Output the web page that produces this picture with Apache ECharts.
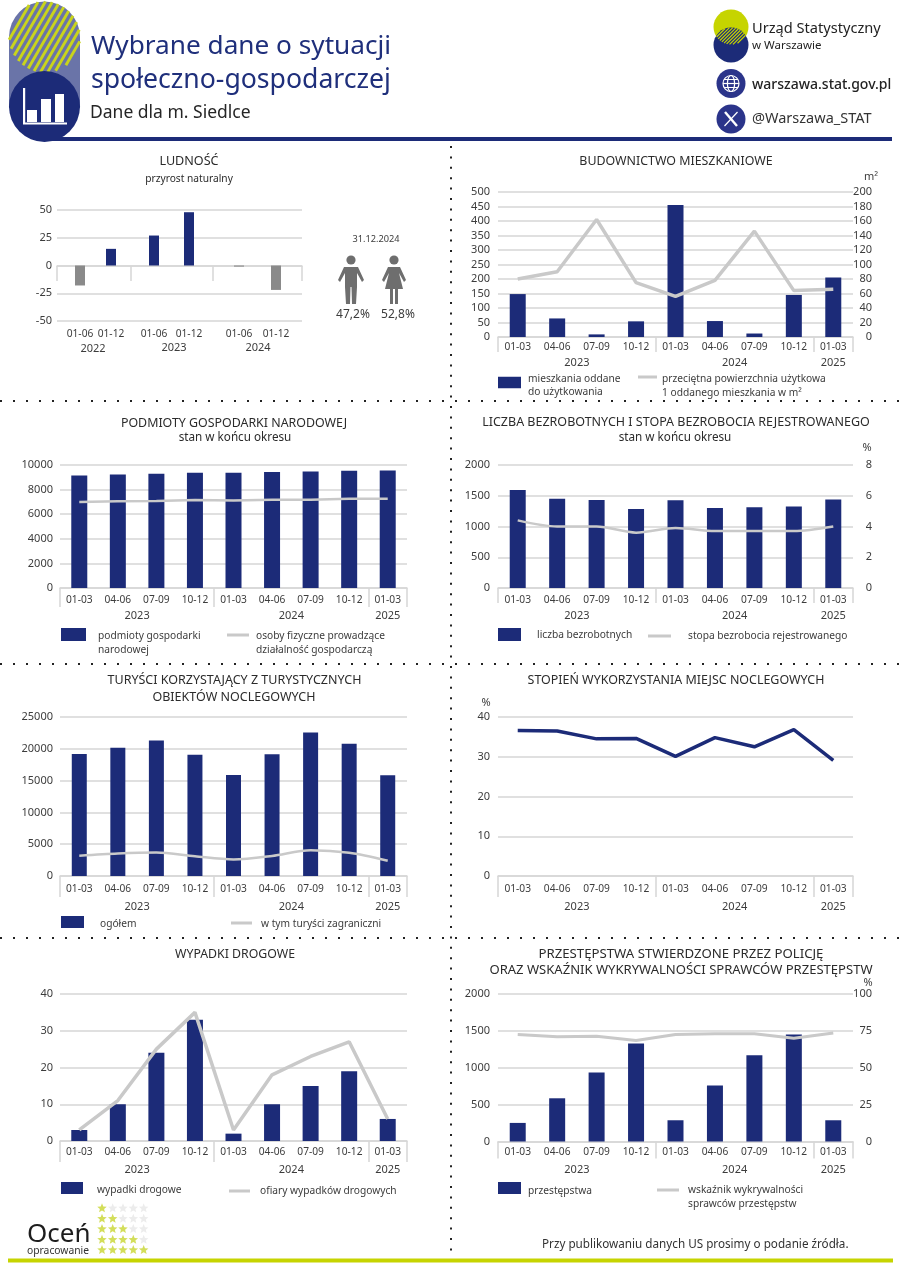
<!DOCTYPE html>
<html>
<head>
<meta charset="utf-8">
<style>
html,body{margin:0;padding:0;background:#fff}
#main{width:900px;height:1273px}
</style>
<script src="https://cdn.jsdelivr.net/npm/echarts@6/dist/echarts.min.js"></script>
</head>
<body>
<div id="main"></div>
<script>
// dane
const kwartaly = ['01-03','04-06','07-09','10-12','01-03','04-06','07-09','10-12','01-03'];
const lataKwartalne = [['2023',4],['2024',4],['2025',1]];

const polrocza = ['01-06','01-12'];
const lataPolroczne = ['2022','2023','2024'];
const przyrost2022 = [-18,15];
const przyrost2023 = [27,48];
const przyrost2024 = [-1,-22];
const dataPlec = '31.12.2024';
const udzialMezczyzn = '47,2%';
const udzialKobiet = '52,8%';

const mieszkaniaOddane = [148,64,9,54,455,55,12,145,205];
const powierzchniaMieszkania = [80,90,162,75,56,78,146,64,66];

const podmiotyGospodarki = [9150,9230,9290,9380,9380,9440,9480,9540,9560];
const osobyFizyczne = [7000,7050,7080,7150,7120,7180,7180,7250,7250];

const liczbaBezrobotnych = [1595,1450,1430,1285,1425,1300,1315,1325,1440];
const stopaBezrobocia = [4.4,4.0,4.0,3.6,3.9,3.7,3.7,3.7,4.0];

const turysciOgolem = [19200,20150,21300,19050,15900,19150,22550,20800,15850];
const turysciZagraniczni = [3200,3550,3700,3100,2600,3150,4050,3650,2400];

const stopienWykorzystania = [36.6,36.5,34.5,34.6,30.1,34.8,32.5,36.8,29.1];

const wypadkiDrogowe = [3,10,24,33,2,10,15,19,6];
const ofiaryWypadkow = [3,11,25,35,3,18,23,27,6];

const przestepstwa = [252,586,937,1329,288,761,1171,1450,288];
const wykrywalnosc = [72.5,71,71.3,68.5,72.5,73,73,70,73.6];

const NAVY = '#1c2b78';
const GRAY_LINE = '#c9c9c9';
const GRID_LINE = '#d6d6d6';
const TEXT = '#3c3c3c';
const LIME = '#c6d400';
const FONT = '"Noto Sans"';
const plain = (v)=>String(v);

let option = {
    animation: false,
    backgroundColor: '#fff',
    textStyle: {fontFamily: FONT},
    title: [], legend: [], grid: [], xAxis: [], yAxis: [], series: [],
    graphic: {elements: []}
};
const gfx = option.graphic.elements;

function txt(text, x, y, size, color, align, weight){
    gfx.push({type:'text', x:x, y:y, silent:true, style:{
        text:text, fill:color||TEXT, textAlign:align||'center', textVerticalAlign:'middle',
        font:(weight||'normal')+' '+size+'px '+FONT
    }});
}
function line(x1,y1,x2,y2,color,width,dash){
    gfx.push({type:'line', silent:true, shape:{x1,y1,x2,y2}, style:{stroke:color,lineWidth:width,lineDash:dash||null}});
}
function circle(cx,cy,r,fill){
    gfx.push({type:'circle', silent:true, shape:{cx,cy,r}, style:{fill:fill}});
}
function rect(x,y,width,height,fill){
    gfx.push({type:'rect', silent:true, shape:{x,y,width,height}, style:{fill:fill}});
}
function poly(points,fill){
    gfx.push({type:'polygon', silent:true, shape:{points}, style:{fill:fill}});
}
function heading(text, cx, cy, size){
    option.title.push({text:text, left:cx, top:cy-10, textAlign:'center', padding:0,
        textStyle:{fontFamily:FONT, fontSize:size||12.4, fontWeight:'normal', color:'#2b2b2b', lineHeight:20}});
}
// ukosne paski przyciete do czesci wspolnej kol
function chords(circles, step, angle, color, width){
    let dx=Math.cos(angle), dy=-Math.sin(angle);
    let nx=-dy, ny=dx;
    let c0=circles[0];
    for(let d=-c0.r; d<=c0.r; d+=step){
        let lo=-1e9, hi=1e9;
        let px=c0.x+nx*d, py=c0.y+ny*d;
        circles.forEach(c=>{
            let ax=px-c.x, ay=py-c.y;
            let b=ax*dx+ay*dy, q=ax*ax+ay*ay-c.r*c.r, disc=b*b-q;
            if(disc<0){ lo=1; hi=0; return; }
            lo=Math.max(lo,-b-Math.sqrt(disc));
            hi=Math.min(hi,-b+Math.sqrt(disc));
        });
        if(hi>lo) line(px+dx*lo,py+dy*lo,px+dx*hi,py+dy*hi,color,width);
    }
}

// dy: o ile tekst lezy nizej niz srodek znaczka
function legendItem(name, left, iconCy, w, h, gap, dy, lines){
    let boxH = Math.max(lines*13.5+2*dy, h);
    let base = {fontFamily:FONT, fontSize:10.2, color:TEXT, lineHeight:13.5};
    option.legend.push({
        data:[{name:name, icon:'rect'}], selectedMode:false, padding:0,
        left:left, top:iconCy-boxH/2, itemWidth:w, itemHeight:h,
        formatter:(n)=>{
            let body = n.split('\n').map(l=>'{t|'+l+'}').join('\n');
            return dy>0 ? '{sp| }\n'+body : body;
        },
        textStyle:Object.assign({}, base, {padding:[0,0,0,gap-5],
            rich:{t:base, sp:{fontSize:1, lineHeight:2*dy}}})
    });
}

// wykres kwartalny: slupki lub linia, opcjonalnie druga os
function addChart(c){
    let g = option.grid.length;
    option.grid.push({left:c.left, top:c.top, width:c.right-c.left, height:c.bottom-c.top});
    let xi = option.xAxis.length;
    option.xAxis.push({
        type:'category', gridIndex:g, data:kwartaly,
        axisLine:{lineStyle:{color:GRID_LINE,width:1.5}},
        axisTick:{show:true, length:c.tick, alignWithLabel:false, lineStyle:{color:GRID_LINE,width:1.5},
            interval:(i)=>i===0||i===4||i===8},
        axisLabel:{interval:0, fontFamily:FONT, fontSize:10.2, color:TEXT, margin:c.labelMargin}
    });
    let yi = option.yAxis.length;
    option.yAxis.push({
        type:'value', gridIndex:g, min:0, max:c.max, interval:c.step,
        axisLine:{show:false}, axisTick:{show:false},
        splitLine:{lineStyle:{color:GRID_LINE,width:1.5}},
        axisLabel:{formatter:plain, fontFamily:FONT, fontSize:11, color:TEXT, margin:c.leftMargin||7}
    });
    let yr = yi;
    if(c.max2){
        yr = option.yAxis.length;
        option.yAxis.push({
            type:'value', gridIndex:g, position:'right', min:0, max:c.max2, interval:c.step2,
            axisLine:{show:false}, axisTick:{show:false}, splitLine:{show:false},
            axisLabel:{fontFamily:FONT, fontSize:11, color:TEXT, margin:19, align:'right'}
        });
    }
    if(c.bars){
        option.series.push({type:'bar', name:c.barName, xAxisIndex:xi, yAxisIndex:yi, data:c.bars,
            barWidth:c.barWidth||16, itemStyle:{color:NAVY}});
    }
    option.series.push({type:'line', name:c.lineName, xAxisIndex:xi, yAxisIndex:yr, data:c.line,
        symbol:'none', smooth:c.smooth||false,
        lineStyle:{color:c.lineColor||GRAY_LINE, width:c.lineWidth||3},
        itemStyle:{color:c.lineColor||GRAY_LINE}});
    // lata pod osia
    let band = (c.right-c.left)/kwartaly.length, start = 0;
    lataKwartalne.forEach(l=>{
        txt(l[0], c.left+band*(start+l[1]/2), c.yearY, 11);
        start += l[1];
    });
}

// naglowek
rect(9,37,71,71,'#6a74a8');
circle(44.5,37,35.5,'#6a74a8');
chords([{x:44.5,y:37,r:35.5}],6.2,Math.PI/3,'#c9d41c',2.9);
circle(44.5,106.5,35.5,NAVY);
rect(44,137,848,4,NAVY);
rect(23,88,2.2,36,'#fff');
rect(27,110,10,12,'#fff');
rect(41,99,10,23,'#fff');
rect(55,94,9,28,'#fff');
rect(23,122.5,44,2,'#fff');
txt('Wybrane dane o sytuacji',91,47,26.2,'#1f2f7b','left');
txt('społeczno-gospodarczej',91,80,26.6,'#1f2f7b','left');
txt('Dane dla m. Siedlce',90,113,17.5,'#262626','left');

// logo
circle(731,27,17.5,LIME);
circle(731,45,17.5,NAVY);
chords([{x:731,y:27,r:17.5},{x:731,y:45,r:17.5}],2.4,Math.PI/4,'#c6d400',1.2);
txt('Urząd Statystyczny',752,29,14.6,'#222','left');
txt('w Warszawie',752,46,11.5,'#222','left');
circle(731,83.5,14.5,'#2b348a');
gfx.push({type:'circle', silent:true, shape:{cx:731,cy:83.5,r:8}, style:{fill:'none',stroke:'#fff',lineWidth:1.2}});
gfx.push({type:'ellipse', silent:true, shape:{cx:731,cy:83.5,rx:3.6,ry:8}, style:{fill:'none',stroke:'#fff',lineWidth:1.2}});
line(723,83.5,739,83.5,'#fff',1.2);
line(724,79.5,738,79.5,'#fff',1);
line(724,87.5,738,87.5,'#fff',1);
txt('warszawa.stat.gov.pl',752,85,14,'#222','left','500');
circle(731,119,14.5,'#2b348a');
line(725,112,737,126,'#fff',2.4);
line(737.5,112,724.5,126,'#fff',1.2);
txt('@Warszawa_STAT',752,119,14.5,'#333','left');

// linie kropkowane
[401,664,938].forEach(y=>line(0,y,900,y,'#222',2,[2,11]));
line(451,146,451,1258,'#222',2,[2,8.4]);

// LUDNOSC
heading('LUDNOŚĆ',189,161,12.6);
heading('przyrost naturalny',189,179,10.2);
let g0 = option.grid.length;
option.grid.push({left:57,top:210,width:245,height:111});
option.xAxis.push({type:'category', gridIndex:g0, data:[''],
    axisLine:{onZero:true, lineStyle:{color:GRID_LINE,width:1.5}}, axisTick:{show:false}, axisLabel:{show:false}});
option.yAxis.push({type:'value', gridIndex:g0, min:-50, max:50, interval:25,
    axisLine:{show:false}, axisTick:{show:false}, splitLine:{lineStyle:{color:GRID_LINE,width:1.5}},
    axisLabel:{fontFamily:FONT, fontSize:11, color:TEXT, margin:5}});
[57,131,213,302].forEach(x=>line(x,266,x,281,GRID_LINE,1.5));
// kazdy rok ma wlasna siatke, bo odstepy miedzy okresami sa nierowne
[{l:64.5,w:62,d:przyrost2022},{l:136.5,w:70,d:przyrost2023},{l:220.5,w:74,d:przyrost2024}].forEach(r=>{
    let g = option.grid.length;
    option.grid.push({left:r.l,top:210,width:r.w,height:111});
    let xi = option.xAxis.length, yi = option.yAxis.length;
    option.xAxis.push({type:'category', gridIndex:g, data:polrocza, position:'bottom',
        axisLine:{show:false,onZero:false}, axisTick:{show:false},
        axisLabel:{interval:0, fontFamily:FONT, fontSize:10.2, color:TEXT, margin:8}});
    option.yAxis.push({type:'value', gridIndex:g, min:-50, max:50, show:false, splitLine:{show:false}});
    option.series.push({type:'bar', xAxisIndex:xi, yAxisIndex:yi, data:r.d, barWidth:10,
        itemStyle:{color:(p)=>p.value<0?'#8a8a8a':NAVY}});
});
txt(lataPolroczne[0],93,349,11);
txt(lataPolroczne[1],174,348,11);
txt(lataPolroczne[2],258,348,11);

// plec
const GRAY_FIG = '#6e6e6e';
const manShape = [[-7,0],[7,0],[13,13],[11,15],[6,6],[6,20],[5,37],[1,37],[0.5,20],[-0.5,20],[-1,37],[-5,37],[-6,20],[-6,6],[-11,15],[-13,13]];
const womanShape = [[-6,0],[6,0],[12,13],[10,15],[5,6],[9,22],[4,22],[4,37],[1,37],[1,22],[-1,22],[-1,37],[-4,37],[-4,22],[-9,22],[-5,6],[-10,15],[-12,13]];
txt(dataPlec,376,239,9.2);
circle(351,260,4.6,GRAY_FIG);
poly(manShape.map(p=>[351+p[0],267+p[1]]),GRAY_FIG);
circle(394,260,4.6,GRAY_FIG);
poly(womanShape.map(p=>[394+p[0],267+p[1]]),GRAY_FIG);
txt(udzialMezczyzn,353,315,12);
txt(udzialKobiet,398,315,12);

// BUDOWNICTWO
heading('BUDOWNICTWO MIESZKANIOWE',676,161,12.4);
addChart({left:498,right:853,top:192,bottom:337,max:500,step:50,max2:200,step2:20,tick:15,labelMargin:5,yearY:363,leftMargin:8,
    bars:mieszkaniaOddane,barName:'mieszkania oddane\ndo użytkowania',
    line:powierzchniaMieszkania,lineName:'przeciętna powierzchnia użytkowa\n1 oddanego mieszkania w m²',lineWidth:3.5});
txt('m²',871,177,11);
legendItem('mieszkania oddane\ndo użytkowania',498,382.5,23,11.5,7,3,2);
legendItem('przeciętna powierzchnia użytkowa\n1 oddanego mieszkania w m²',638,377,19,3,5,9,2);

// PODMIOTY
heading('PODMIOTY GOSPODARKI NARODOWEJ',234,423);
heading('stan w końcu okresu',235,438,11.7);
addChart({left:60,right:407,top:465,bottom:588,max:10000,step:2000,tick:19,labelMargin:7,yearY:616,
    bars:podmiotyGospodarki,barName:'podmioty gospodarki\nnarodowej',
    line:osobyFizyczne,lineName:'osoby fizyczne prowadzące\ndziałalność gospodarczą',lineWidth:2.5});
legendItem('podmioty gospodarki\nnarodowej',61,634.5,25,13,12,8.5,2);
legendItem('osoby fizyczne prowadzące\ndziałalność gospodarczą',227,635,22,3,7,8,2);

// BEZROBOCIE
heading('LICZBA BEZROBOTNYCH I STOPA BEZROBOCIA REJESTROWANEGO',676,422,12.5);
heading('stan w końcu okresu',675,438,11.7);
addChart({left:498,right:853,top:465,bottom:588,max:2000,step:500,max2:8,step2:2,tick:15,labelMargin:7,yearY:616,leftMargin:8,
    bars:liczbaBezrobotnych,barName:'liczba bezrobotnych',
    line:stopaBezrobocia,lineName:'stopa bezrobocia rejestrowanego',lineWidth:2.5,smooth:0.3});
txt('%',867,448,11);
legendItem('liczba bezrobotnych',498,634.5,23,13,16,1,1);
legendItem('stopa bezrobocia rejestrowanego',648,636,23,3,17,0,1);

// TURYSCI
heading('TURYŚCI KORZYSTAJĄCY Z TURYSTYCZNYCH',234.5,680,12.5);
heading('OBIEKTÓW NOCLEGOWYCH',234,697,12.5);
addChart({left:60,right:407,top:717,bottom:876,max:25000,step:5000,tick:21,labelMargin:8,yearY:907,barWidth:15,
    bars:turysciOgolem,barName:'ogółem',
    line:turysciZagraniczni,lineName:'w tym turyści zagraniczni',lineWidth:2.5,smooth:0.3});
legendItem('ogółem',61,922,23,12,16,2,1);
legendItem('w tym turyści zagraniczni',231,923,21,3,9,1,1);

// STOPIEN WYKORZYSTANIA
heading('STOPIEŃ WYKORZYSTANIA MIEJSC NOCLEGOWYCH',676,680,12.45);
addChart({left:498,right:853,top:717,bottom:876,max:40,step:10,tick:21,labelMargin:8,yearY:907,leftMargin:8,
    line:stopienWykorzystania,lineName:'stopień wykorzystania',lineColor:NAVY,lineWidth:3.5});
txt('%',486,703,11);

// WYPADKI
heading('WYPADKI DROGOWE',235,954,12.3);
addChart({left:60,right:407,top:994,bottom:1141,max:40,step:10,tick:21,labelMargin:6,yearY:1170,
    bars:wypadkiDrogowe,barName:'wypadki drogowe',
    line:ofiaryWypadkow,lineName:'ofiary wypadków drogowych',lineWidth:3.5});
legendItem('wypadki drogowe',61,1188,22,12,14,2.5,1);
legendItem('ofiary wypadków drogowych',229,1191,21,3,10,0,1);

// PRZESTEPSTWA
heading('PRZESTĘPSTWA STWIERDZONE PRZEZ POLICJĘ',681,954,13.2);
heading('ORAZ WSKAŹNIK WYKRYWALNOŚCI SPRAWCÓW PRZESTĘPSTW',681,970,13.05);
addChart({left:498,right:853,top:994,bottom:1141.5,max:2000,step:500,max2:100,step2:25,tick:17,labelMargin:6,yearY:1170,leftMargin:8,
    bars:przestepstwa,barName:'przestępstwa',
    line:wykrywalnosc,lineName:'wskaźnik wykrywalności\nsprawców przestępstw',lineWidth:3});
txt('%',868,983,11);
legendItem('przestępstwa',498,1188,23,12,7,3,1);
legendItem('wskaźnik wykrywalności\nsprawców przestępstw',657,1190,22,3,9,7,2);

// stopka
rect(8,1258.5,885,4,LIME);
txt('Oceń',27,1235,26,'#1d1d1d','left');
txt('opracowanie',27,1251,10.3,'#333','left');
txt('Przy publikowaniu danych US prosimy o podanie źródła.',542,1245,11.7,'#333','left');
const gwiazdkiX = [102,112.7,123,133.3,143.7];
const gwiazdkiY = [1208.3,1218.7,1229,1239.7,1250];
gwiazdkiY.forEach((y,row)=>{
    gwiazdkiX.forEach((x,col)=>{
        let pts=[];
        for(let k=0;k<10;k++){
            let r=k%2===0?5:2.2, a=-Math.PI/2+k*Math.PI/5;
            pts.push([x+r*Math.cos(a),y+r*Math.sin(a)]);
        }
        poly(pts,col<=row?'#d3de5a':'#ececec');
    });
});

let myChart = echarts.init(document.getElementById('main'), null, {renderer:'canvas', width:900, height:1273});
myChart.setOption(option);
</script>
</body>
</html>
